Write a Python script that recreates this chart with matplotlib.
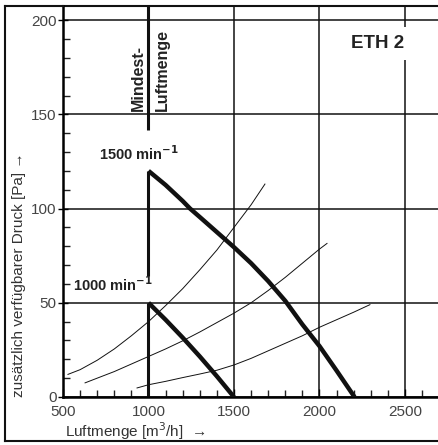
import numpy as np
import matplotlib
matplotlib.use("Agg")
import matplotlib.pyplot as plt
from matplotlib.lines import Line2D

# Kennlinien ETH 2
q_1500 = [1000, 1100, 1200, 1243, 1300, 1400, 1500, 1600, 1700, 1800, 1900, 2000, 2100, 2205]
p_1500 = [120, 112.5, 104, 100, 95.5, 87.5, 79.5, 71, 61.5, 51, 38.5, 27, 14, 0]

q_1000 = [1000, 1100, 1200, 1300, 1400, 1500]
p_1000 = [50, 41, 31.5, 21.5, 11, 0]

# Anlagenkennlinien (dünn)
q_sys_a = [529, 600, 700, 800, 900, 1000, 1100, 1200, 1300, 1400, 1500, 1600, 1681]
p_sys_a = [12, 14.5, 19.5, 25.5, 32.5, 40, 48.5, 57.5, 67.5, 78, 90, 102, 113]
q_sys_b = [629, 700, 800, 900, 1000, 1100, 1200, 1300, 1400, 1500, 1600, 1700, 1800, 1900, 2000, 2044]
p_sys_b = [7.5, 10, 13.5, 17.5, 21.5, 25.5, 29.8, 34.5, 39.5, 44.5, 50, 56.5, 63.5, 71, 78.5, 81.5]
q_sys_c = [933, 1000, 1100, 1200, 1300, 1400, 1500, 1600, 1700, 1800, 1900, 2000, 2100, 2200, 2295]
p_sys_c = [4.8, 6.5, 8.3, 10.3, 12.2, 14.2, 17, 20.5, 24.5, 28.5, 32.5, 37, 41, 45, 49]

min_luftmenge = 1000

x_ticks = [500, 1000, 1500, 2000, 2500]
y_ticks = [0, 50, 100, 150, 200]

plt.rcParams['font.family'] = ['Liberation Sans', 'DejaVu Sans']

fig = plt.figure(figsize=(4.39, 4.45), dpi=100)
ax = fig.add_axes([63/439, 1-397/445, 1-63/439, (397-6)/445])

ax.set_xlim(500, 2699)
ax.set_ylim(0, 207.5)

ax.set_xticks(x_ticks)
ax.set_yticks(y_ticks)
ax.set_xticks(np.arange(500, 2700, 100), minor=True)
ax.set_yticks(np.arange(0, 210, 10), minor=True)
ax.tick_params(axis='both', which='minor', direction='in', length=5, width=1, color='#222')
ax.tick_params(axis='x', which='major', direction='in', length=6, width=1, labelsize=11,
               labelcolor='#444', pad=6)
ax.tick_params(axis='y', which='major', direction='inout', length=7, width=1, labelsize=11,
               labelcolor='#444', pad=1)

ax.grid(True, which='major', color='#111', linewidth=1.1)
ax.xaxis.get_gridlines()[1].set_visible(False)
for side in ['top', 'right']:
    ax.spines[side].set_visible(False)
ax.spines['left'].set_linewidth(1.8)
ax.spines['bottom'].set_linewidth(1.8)
ax.axhline(207.5, color='#111', lw=1.5, clip_on=False)

# Mindest-Luftmenge: dicke Linie, an den Beschriftungen unterbrochen
ax.vlines([min_luftmenge] * 3, [0, 64, 141.5], [50, 120, 207.5], color='#111', lw=2.2, zorder=2.5)

ax.plot(q_sys_a, p_sys_a, color='#111', lw=0.7, zorder=3)
ax.plot(q_sys_b, p_sys_b, color='#111', lw=0.7, zorder=3)
ax.plot(q_sys_c, p_sys_c, color='#111', lw=0.7, zorder=3)
ax.plot(q_1500, p_1500, color='#111', lw=3.2, solid_capstyle='butt', zorder=4)
ax.plot(q_1000, p_1000, color='#111', lw=3.2, solid_capstyle='butt', zorder=4)

ax.text(945, 129, '1500 min$^{\\mathbf{-1}}$', ha='center', va='center', fontsize=10.5,
        fontweight='bold', color='#222', zorder=5)
ax.text(790, 59.5, '1000 min$^{\\mathbf{-1}}$', ha='center', va='center', fontsize=10.5,
        fontweight='bold', color='#222', zorder=5)
ax.text(2342, 187.5, 'ETH 2', ha='center', va='center', fontsize=13.5,
        fontweight='bold', color='#222', bbox=dict(facecolor='white', edgecolor='none', pad=6),
        zorder=5)
ax.text(939, 152, 'Mindest-', rotation=90, ha='center', va='bottom', fontsize=11.5,
        fontweight='bold', color='#222', zorder=5)
ax.text(1081, 152, 'Luftmenge', rotation=90, ha='center', va='bottom', fontsize=11.5,
        fontweight='bold', color='#222', zorder=5)

ax.set_xlabel('Luftmenge [m$^3$/h]  \u2192', fontsize=11, color='#333', labelpad=0)
ax.xaxis.label.set_horizontalalignment('left')
ax.xaxis.label.set_verticalalignment('top')
ax.xaxis.set_label_coords(0.005, -0.06)
ax.set_ylabel('zusätzlich verfügbarer Druck [Pa] \u2192', fontsize=11, color='#333')
ax.yaxis.label.set_verticalalignment('center')
ax.yaxis.label.set_horizontalalignment('left')
ax.yaxis.set_label_coords(-0.118, 0.0)

# Rahmen um die Abbildung
fig.add_artist(Line2D([5/439, 5/439], [1-441/445, 1-6/445], transform=fig.transFigure,
                      color='#111', lw=1.5))
fig.add_artist(Line2D([5/439, 1], [1-441/445, 1-441/445], transform=fig.transFigure,
                      color='#111', lw=1.5))
fig.add_artist(Line2D([5/439, 63/439], [1-6/445, 1-6/445], transform=fig.transFigure,
                      color='#111', lw=1.5))

fig.savefig('out.png', dpi=100)
